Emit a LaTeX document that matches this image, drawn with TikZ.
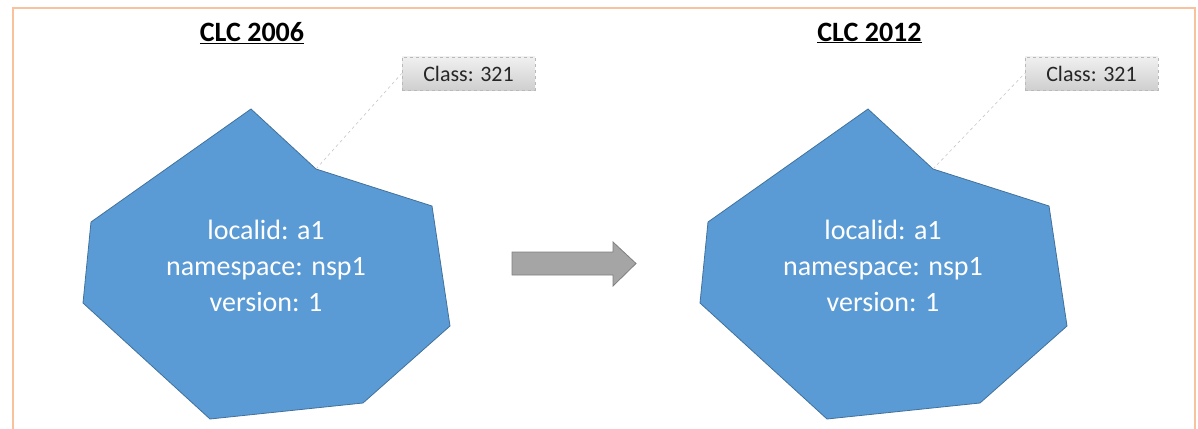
\documentclass[tikz,border=0pt]{standalone}
\usepackage{fontspec}
\setmainfont{Carlito}
\definecolor{frameor}{HTML}{F7C29C}
\definecolor{blobfill}{HTML}{5B9BD5}
\definecolor{blobline}{HTML}{41719C}
\definecolor{arrowfill}{HTML}{A5A5A5}
\definecolor{arrowline}{HTML}{7F7F7F}
\tikzset{
  blob/.style={fill=blobfill, draw=blobline, line width=0.8pt, line join=miter},
  blobtext/.style={text=white, align=center, font=\fontsize{28}{36}\selectfont, inner sep=0pt},
  title/.style={font=\fontsize{28}{30}\selectfont\bfseries, text=black, inner sep=0pt},
  classbox/.style={draw=gray!55, dashed, line width=0.8pt, top color=gray!12, bottom color=gray!38,
    minimum width=133pt, minimum height=33pt, inner sep=0pt, font=\fontsize{22}{24}\selectfont, text=black!85},
  leader/.style={draw=gray!45, dashed, line width=0.6pt},
  bigarrow/.style={fill=arrowfill, draw=arrowline, line width=0.8pt, line join=miter},
}
\begin{document}
\begin{tikzpicture}[x=1pt,y=-1pt]
\useasboundingbox (0,0) rectangle (1198,428);
% frame
\draw[frameor, line width=2pt] (13,440) -- (13,8) -- (1195,8) -- (1195,440);

% left shape
\draw[blob] (251,109) -- (316,169) coordinate (n1) -- (432,206) -- (450,326) -- (363,403) -- (210,419) -- (83,303) -- (91,222) -- cycle;
\node[blobtext] (t1) at (266,266) {localid: a1\\namespace: nsp1\\version: 1};
\node[title] (h1) at (252,33) {\underline{CLC 2006}};
\node[classbox] (c1) at (468.5,73.5) {Class: 321};
\draw[leader] (n1) -- (c1.west);

% right shape
\draw[blob] (868,109) -- (933,169) coordinate (n2) -- (1049,206) -- (1067,326) -- (980,403) -- (827,419) -- (700,303) -- (708,222) -- cycle;
\node[blobtext] (t2) at (883,266) {localid: a1\\namespace: nsp1\\version: 1};
\node[title] (h2) at (869.5,33) {\underline{CLC 2012}};
\node[classbox] (c2) at (1091.5,73.5) {Class: 321};
\draw[leader] (n2) -- (c2.west);

% arrow
\draw[bigarrow] (512,252) -- (613,252) -- (613,242) -- (636,263.5) -- (613,286) -- (613,275) -- (512,275) -- cycle;
\end{tikzpicture}
\end{document}
